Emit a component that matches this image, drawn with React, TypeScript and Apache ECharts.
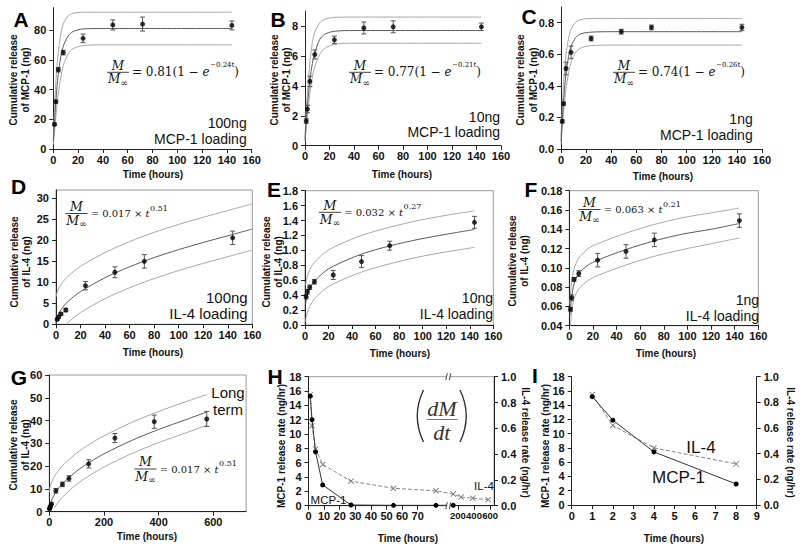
import React, { useEffect, useRef } from 'react';
import * as echarts from 'echarts';

type Pt = [number, number];

// ---------------- data ----------------
const HOURS = [1, 2, 4, 8, 24, 48, 72, 144];
const HOURS_LONG = [1, 2, 4, 8, 24, 48, 72, 144, 240, 384, 576];
const RATE_HOURS_SHORT = [1, 2, 4, 8];

const X_TICKS_160 = [0, 20, 40, 60, 80, 100, 120, 140, 160];
const X_TICKS_LONG = [0, 200, 400, 600];
const X_TICKS_I = [0, 1, 2, 3, 4, 5, 6, 7, 8, 9];
const Y_TICKS_A = [0, 20, 40, 60, 80];
const Y_TICKS_B = [0, 2, 4, 6, 8];
const Y_TICKS_C = [0, 0.2, 0.4, 0.6, 0.8];
const Y_TICKS_D = [0, 5, 10, 15, 20, 25, 30];
const Y_TICKS_E = [0, 0.2, 0.4, 0.6, 0.8, 1.0, 1.2, 1.4, 1.6, 1.8];
const Y_TICKS_F = [0.04, 0.06, 0.08, 0.1, 0.12, 0.14, 0.16, 0.18];
const Y_TICKS_G = [0, 10, 20, 30, 40, 50, 60];
const Y_TICKS_RATE = [0, 2, 4, 6, 8, 10, 12, 14, 16, 18];
const Y_TICKS_RATE_R = [0, 0.2, 0.4, 0.6, 0.8, 1.0];
const H_TICKS_SHORT = [0, 10, 20, 30, 40, 50, 60, 70];
const H_TICKS_LONG = [200, 400, 600];

// A: 100ng MCP-1
const A_VALUES = [16.6, 31.8, 53.3, 64.8, 74.4, 83.4, 84.0, 83.1];
const A_ERRORS = [0.8, 1.0, 1.5, 1.5, 2.9, 3.4, 4.7, 3.0];
const A_FIT: Pt[] = [[0, 5], [1, 18], [2, 31], [3, 42], [4, 50], [6, 62], [8, 69], [12, 76], [16, 79], [24, 80.7], [40, 81], [144, 81]];
const A_UPPER: Pt[] = [[0, 7], [1, 27], [2, 44], [3, 56], [4, 65], [6, 77], [8, 84], [12, 89.5], [16, 91.3], [24, 92], [40, 92], [144, 92]];
const A_LOWER: Pt[] = [[0, 3], [1, 12], [2, 21], [3, 30], [4, 37], [6, 48], [8, 56], [12, 64], [16, 67.5], [24, 69.5], [40, 70], [144, 70]];

// B: 10ng MCP-1
const B_VALUES = [1.65, 2.45, 4.3, 6.1, 7.08, 7.87, 7.95, 7.95];
const B_ERRORS = [0.15, 0.25, 0.35, 0.3, 0.25, 0.4, 0.4, 0.25];
const B_FIT: Pt[] = [[0, 0.4], [1, 1.6], [2, 2.7], [3, 3.6], [4, 4.4], [6, 5.5], [8, 6.2], [12, 7.1], [16, 7.45], [24, 7.65], [40, 7.7], [144, 7.7]];
const B_UPPER: Pt[] = [[0, 0.6], [1, 2.2], [2, 3.6], [3, 4.7], [4, 5.6], [6, 6.9], [8, 7.6], [12, 8.2], [16, 8.45], [24, 8.58], [40, 8.6], [144, 8.6]];
const B_LOWER: Pt[] = [[0, 0.3], [1, 1.1], [2, 2.0], [3, 2.8], [4, 3.5], [6, 4.6], [8, 5.3], [12, 6.1], [16, 6.5], [24, 6.78], [40, 6.85], [144, 6.85]];

// C: 1ng MCP-1
const C_VALUES = [0.175, 0.287, 0.51, 0.612, 0.70, 0.743, 0.77, 0.77];
const C_ERRORS = [0.01, 0.01, 0.04, 0.04, 0.015, 0.015, 0.015, 0.02];
const C_FIT: Pt[] = [[0, 0.05], [1, 0.18], [2, 0.3], [3, 0.4], [4, 0.48], [6, 0.585], [8, 0.65], [12, 0.708], [16, 0.73], [24, 0.74], [40, 0.743], [144, 0.743]];
const C_UPPER: Pt[] = [[0, 0.08], [1, 0.25], [2, 0.4], [3, 0.51], [4, 0.6], [6, 0.7], [8, 0.76], [12, 0.805], [16, 0.82], [24, 0.827], [40, 0.827], [144, 0.827]];
const C_LOWER: Pt[] = [[0, 0.03], [1, 0.13], [2, 0.23], [3, 0.31], [4, 0.38], [6, 0.48], [8, 0.55], [12, 0.615], [16, 0.64], [24, 0.655], [40, 0.658], [144, 0.658]];

// D: 100ng IL-4
const D_VALUES = [1.2, 1.7, 2.45, 3.4, 9.2, 12.4, 15.0, 20.6];
const D_ERRORS = [0.2, 0.3, 0.3, 0.4, 1.0, 1.3, 1.6, 1.6];
const D_FIT: Pt[] = [[0, 0], [0.25, 0.85], [1, 1.7], [4, 3.45], [10, 5.5], [20, 7.8], [40, 11.1], [60, 13.7], [80, 15.9], [100, 17.8], [120, 19.5], [140, 21.1], [160, 22.7]];
const D_UPPER: Pt[] = [[0, 6.5], [1, 7.7], [4, 9.45], [10, 11.5], [20, 13.8], [40, 17.1], [60, 19.7], [80, 21.9], [100, 23.8], [120, 25.5], [140, 27.1], [160, 28.7]];
const D_LOWER: Pt[] = [[8.6, 0], [10, 0.5], [20, 2.8], [40, 6.1], [60, 8.7], [80, 10.9], [100, 12.8], [120, 14.5], [140, 16.1], [160, 17.7]];

// E: 10ng IL-4
const E_VALUES = [0.38, 0.447, 0.505, 0.58, 0.67, 0.85, 1.063, 1.376];
const E_ERRORS = [0.03, 0.03, 0.03, 0.03, 0.06, 0.08, 0.06, 0.08];
const E_FIT: Pt[] = [[0.5, 0.28], [1, 0.334], [2, 0.40], [4, 0.486], [8, 0.585], [16, 0.706], [24, 0.788], [48, 0.95], [72, 1.06], [96, 1.146], [120, 1.216], [144, 1.28]];
const E_UPPER: Pt[] = [[0.5, 0.53], [1, 0.58], [2, 0.65], [4, 0.74], [8, 0.84], [16, 0.96], [24, 1.04], [48, 1.2], [72, 1.31], [96, 1.40], [120, 1.47], [144, 1.53]];
const E_LOWER: Pt[] = [[0.5, 0.04], [1, 0.1], [2, 0.16], [4, 0.25], [8, 0.35], [16, 0.47], [24, 0.55], [48, 0.71], [72, 0.82], [96, 0.91], [120, 0.98], [144, 1.04]];

// F: 1ng IL-4
const F_VALUES = [0.057, 0.069, 0.088, 0.094, 0.108, 0.117, 0.129, 0.149];
const F_ERRORS = [0.002, 0.003, 0.002, 0.003, 0.007, 0.007, 0.007, 0.007];
const F_FIT: Pt[] = [[0.5, 0.05], [1, 0.058], [2, 0.07], [4, 0.083], [8, 0.094], [16, 0.103], [24, 0.108], [48, 0.119], [72, 0.128], [96, 0.135], [120, 0.140], [144, 0.146]];
const F_UPPER: Pt[] = [[0.5, 0.062], [1, 0.072], [2, 0.085], [4, 0.099], [8, 0.110], [16, 0.120], [24, 0.125], [48, 0.136], [72, 0.145], [96, 0.152], [120, 0.157], [144, 0.162]];
const F_LOWER: Pt[] = [[1, 0.04], [2, 0.055], [4, 0.068], [8, 0.078], [16, 0.087], [24, 0.092], [48, 0.103], [72, 0.112], [96, 0.119], [120, 0.125], [144, 0.131]];

// G: long term IL-4
const G_VALUES = [1.2, 1.7, 2.45, 3.4, 9.2, 12.0, 14.6, 21.0, 32.3, 39.5, 40.7];
const G_ERRORS = [0.2, 0.3, 0.3, 0.4, 1.0, 1.0, 1.2, 1.8, 2.0, 2.9, 3.3];
const G_FIT: Pt[] = [[0, 0], [1, 1.7], [4, 3.45], [10, 5.5], [25, 8.8], [50, 12.5], [100, 17.8], [150, 21.9], [200, 25.4], [300, 31.2], [400, 36.1], [500, 40.4], [576, 43.8]];
const G_UPPER: Pt[] = [[0, 8.5], [4, 11.3], [10, 13.4], [25, 16.7], [50, 20.4], [100, 25.7], [150, 29.8], [200, 33.3], [300, 39.1], [400, 44.0], [500, 48.3], [576, 51.4]];
const G_LOWER: Pt[] = [[18, 1.5], [25, 2.9], [50, 6.6], [100, 12.0], [150, 16.1], [200, 19.6], [300, 25.4], [400, 30.3], [500, 34.6], [576, 37.9]];

// H: release rates
const H_MCP1_RATE = [15.3, 12.0, 7.5, 2.9, 0.1, 0.05, 0.05, 0.05];
const H_IL4_RATE = [0.86, 0.62, 0.44, 0.32, 0.19, 0.135, 0.115, 0.09, 0.067, 0.058, 0.047];

// I: early release rates
const I_MCP1_RATE = [15.2, 11.9, 7.45, 2.95];
const I_IL4_RATE = [0.86, 0.62, 0.445, 0.32];

// ---------------- layout / style ----------------
const SANS = "'Liberation Sans', Arial, sans-serif";
const SERIF = "'DejaVu Serif', serif";
const AXIS_COLOR = '#222';

// H broken axis: pixel-unit axis; first segment linear in hours, second segment compressed
const H_U_PER_HOUR = 1.77;
const H_SEG2_START = 133.1;
const H_SEG2_PER_HOUR = 0.081;
const H_BREAK_U = 139.8;
const H_LABEL_STEP_PER_HOUR = 1.56;
const hU = (t: number) => (t <= 80 ? t * H_U_PER_HOUR : H_SEG2_START + t * H_SEG2_PER_HOUR);
const H_SHORT_U = H_TICKS_SHORT.map((t) => t * H_LABEL_STEP_PER_HOUR);
const H_LONG_U = H_TICKS_LONG.map(hU);
const H_TICK_U = [...H_SHORT_U, ...H_LONG_U];

interface Panel {
  box: [number, number, number, number];
  xMax: number;
  xTicks: number[];
  yMin: number;
  yMax: number;
  yTicks: number[];
  yDec: number;
  frame: boolean;
  times: number[];
  values: number[];
  errors: number[];
  fit: Pt[];
  upper: Pt[];
  lower: Pt[];
}

const PANELS: Panel[] = [
  { box: [53.3, 7.7, 251.7, 149], xMax: 160, xTicks: X_TICKS_160, yMin: 0, yMax: 95, yTicks: Y_TICKS_A, yDec: 0, frame: false, times: HOURS, values: A_VALUES, errors: A_ERRORS, fit: A_FIT, upper: A_UPPER, lower: A_LOWER },
  { box: [305, 11.1, 501, 145.7], xMax: 160, xTicks: X_TICKS_160, yMin: 0, yMax: 9, yTicks: Y_TICKS_B, yDec: 0, frame: false, times: HOURS, values: B_VALUES, errors: B_ERRORS, fit: B_FIT, upper: B_UPPER, lower: B_LOWER },
  { box: [561, 6.9, 762, 149], xMax: 160, xTicks: X_TICKS_160, yMin: 0, yMax: 0.9, yTicks: Y_TICKS_C, yDec: 1, frame: false, times: HOURS, values: C_VALUES, errors: C_ERRORS, fit: C_FIT, upper: C_UPPER, lower: C_LOWER },
  { box: [56, 190, 252.3, 324.3], xMax: 160, xTicks: X_TICKS_160, yMin: 0, yMax: 32, yTicks: Y_TICKS_D, yDec: 0, frame: true, times: HOURS, values: D_VALUES, errors: D_ERRORS, fit: D_FIT, upper: D_UPPER, lower: D_LOWER },
  { box: [305, 190.7, 493.3, 325], xMax: 160, xTicks: X_TICKS_160, yMin: 0, yMax: 1.8, yTicks: Y_TICKS_E, yDec: 1, frame: true, times: HOURS, values: E_VALUES, errors: E_ERRORS, fit: E_FIT, upper: E_UPPER, lower: E_LOWER },
  { box: [569.3, 190.7, 758.3, 325.7], xMax: 160, xTicks: X_TICKS_160, yMin: 0.04, yMax: 0.18, yTicks: Y_TICKS_F, yDec: 2, frame: true, times: HOURS, values: F_VALUES, errors: F_ERRORS, fit: F_FIT, upper: F_UPPER, lower: F_LOWER },
  { box: [49.3, 375, 246.1, 511.7], xMax: 720, xTicks: X_TICKS_LONG, yMin: 0, yMax: 60, yTicks: Y_TICKS_G, yDec: 0, frame: true, times: HOURS_LONG, values: G_VALUES, errors: G_ERRORS, fit: G_FIT, upper: G_UPPER, lower: G_LOWER },
];
const H_BOX: [number, number, number, number] = [308.5, 376.7, 494, 505.7];
const I_BOX: [number, number, number, number] = [571.7, 376.7, 756.7, 505];

const tickLabel = { color: '#111', fontFamily: SANS, fontWeight: 'bold' as const, fontSize: 11, hideOverlap: false };
const fixed = (d: number) => (v: number) => v.toFixed(d);

function gridOf(b: [number, number, number, number], frame: boolean) {
  return {
    left: b[0], top: b[1], width: b[2] - b[0], height: b[3] - b[1],
    show: frame, borderColor: '#9a9a9a', borderWidth: 1, backgroundColor: 'transparent',
    containLabel: false, outerBoundsMode: 'none',
  };
}

function valueAxis(grid: number, min: number, max: number, ticks: number[], fmt: (v: number) => string, extra: any = {}) {
  return {
    type: 'value', gridIndex: grid, min, max,
    axisLine: { show: true, onZero: false, lineStyle: { color: AXIS_COLOR, width: 1 } },
    axisTick: { show: true, customValues: ticks, length: 4, lineStyle: { color: AXIS_COLOR, width: 1 } },
    axisLabel: { show: true, customValues: ticks, formatter: fmt, ...tickLabel, ...(extra.label || {}) },
    splitLine: { show: false },
    ...(extra.axis || {}),
  };
}

const errorBarRender = (params: any, api: any) => {
  const x = api.value(0);
  const p1 = api.coord([x, api.value(1)]);
  const p2 = api.coord([x, api.value(2)]);
  const w = 2.5;
  const st = { stroke: '#555', lineWidth: 1 };
  return {
    type: 'group',
    children: [
      { type: 'line', shape: { x1: p1[0], y1: p1[1], x2: p2[0], y2: p2[1] }, style: st },
      { type: 'line', shape: { x1: p1[0] - w, y1: p1[1], x2: p1[0] + w, y2: p1[1] }, style: st },
      { type: 'line', shape: { x1: p2[0] - w, y1: p2[1], x2: p2[0] + w, y2: p2[1] }, style: st },
    ],
  };
};

const X_SYMBOL = 'path://M0,1L1,0L5,4L9,0L10,1L6,5L10,9L9,10L5,6L1,10L0,9L4,5Z';

function buildOption() {
  const grid: any[] = [];
  const xAxis: any[] = [];
  const yAxis: any[] = [];
  const series: any[] = [];

  PANELS.forEach((p, i) => {
    grid.push(gridOf(p.box, p.frame));
    xAxis.push(valueAxis(i, 0, p.xMax, p.xTicks, fixed(0), { label: { margin: 5 } }));
    yAxis.push(valueAxis(i, p.yMin, p.yMax, p.yTicks, fixed(p.yDec), { label: { margin: 7 } }));
    const band = (data: Pt[], color: string) => ({
      type: 'line', xAxisIndex: i, yAxisIndex: i, data, symbol: 'none', showSymbol: false,
      smooth: 0.3, clip: true, silent: true, z: 2, lineStyle: { color, width: 1 },
    });
    series.push(band(p.upper, '#a8a8a8'));
    series.push(band(p.lower, '#a8a8a8'));
    series.push(band(p.fit, '#5a5a5a'));
    series.push({
      type: 'custom', xAxisIndex: i, yAxisIndex: i, z: 3, silent: true, clip: false,
      renderItem: errorBarRender, encode: { x: 0, y: [1, 2] },
      data: p.times.map((t, k) => [t, p.values[k] - p.errors[k], p.values[k] + p.errors[k]]),
    });
    series.push({
      type: 'scatter', xAxisIndex: i, yAxisIndex: i, z: 4, silent: true,
      symbol: 'circle', symbolSize: 5, itemStyle: { color: '#000' },
      data: p.times.map((t, k) => [t, p.values[k]]),
    });
  });

  // H (grid 7): broken time axis
  grid.push(gridOf(H_BOX, true));
  xAxis.push(valueAxis(7, 0, H_BOX[2] - H_BOX[0], H_TICK_U, (v: number) => {
    let best = 0;
    H_TICK_U.forEach((u, k) => { if (Math.abs(u - v) < Math.abs(H_TICK_U[best] - v)) best = k; });
    const txt = String([...H_TICKS_SHORT, ...H_TICKS_LONG][best]);
    return best >= H_TICKS_SHORT.length ? `{s|${txt}}` : txt;
  }, { label: { margin: 5, rich: { s: { fontSize: 9.5, fontWeight: 'bold', fontFamily: SANS, color: '#111' } } } }));
  yAxis.push(valueAxis(7, 0, 18, Y_TICKS_RATE, fixed(0), { label: { margin: 7 } }));
  // I (grid 8)
  grid.push(gridOf(I_BOX, false));
  xAxis.push(valueAxis(8, 0, 9, X_TICKS_I, fixed(0), { label: { margin: 5 } }));
  yAxis.push(valueAxis(8, 0, 18, Y_TICKS_RATE, fixed(0), { label: { margin: 7 } }));
  // right axes (index 9: H, 10: I)
  yAxis.push(valueAxis(7, 0, 1, Y_TICKS_RATE_R, fixed(1), { axis: { position: 'right' }, label: { margin: 7 } }));
  yAxis.push(valueAxis(8, 0, 1, Y_TICKS_RATE_R, fixed(1), { axis: { position: 'right' }, label: { margin: 7 } }));

  const mcpLine = (xi: number, yi: number, data: Pt[]) => ({
    type: 'line', xAxisIndex: xi, yAxisIndex: yi, data, z: 4, silent: true,
    symbol: 'circle', symbolSize: 5, itemStyle: { color: '#000' },
    lineStyle: { color: '#333', width: 1 },
  });
  const ilLine = (xi: number, yi: number, data: Pt[]) => ({
    type: 'line', xAxisIndex: xi, yAxisIndex: yi, data, z: 3, silent: true,
    symbol: X_SYMBOL, symbolSize: 6, itemStyle: { color: '#777' },
    lineStyle: { color: '#888', width: 1, type: [4, 2] },
  });
  series.push(ilLine(7, 9, HOURS_LONG.map((t, k) => [hU(t), H_IL4_RATE[k]] as Pt)));
  series.push(mcpLine(7, 7, HOURS.map((t, k) => [hU(t), H_MCP1_RATE[k]] as Pt)));
  series.push(ilLine(8, 10, RATE_HOURS_SHORT.map((t, k) => [t, I_IL4_RATE[k]] as Pt)));
  series.push(mcpLine(8, 8, RATE_HOURS_SHORT.map((t, k) => [t, I_MCP1_RATE[k]] as Pt)));

  return {
    animation: false,
    backgroundColor: '#fff',
    textStyle: { fontFamily: SANS },
    grid, xAxis, yAxis, series,
  };
}

// ---------------- graphics ----------------
let measureCtx: CanvasRenderingContext2D | null = null;
function textWidth(s: string, font: string) {
  if (!measureCtx) measureCtx = document.createElement('canvas').getContext('2d');
  measureCtx!.font = font;
  return measureCtx!.measureText(s).width;
}

function txt(text: string, x: number, y: number, font: string, align = 'left', valign = 'middle', extra: any = {}) {
  const { style: st, ...rest } = extra;
  return {
    type: 'text', x, y, silent: true, z: 100, ...rest,
    style: { text, font, fill: '#111', align, verticalAlign: valign, textAlign: align, textVerticalAlign: valign, ...(st || {}) },
  };
}

type Piece = { t: string; k: 'n' | 'i' | 'sup' };
function formula(cx: number, ly: number, fracSize: number, size: number, supSize: number, supRaise: number, pieces: Piece[]) {
  const mFont = `italic ${fracSize}px ${SERIF}`;
  const infSize = Math.round(fracSize * 0.72);
  const infFont = `${infSize}px ${SERIF}`;
  const wM = textWidth('M', mFont);
  const wInf = textWidth('∞', infFont);
  const W = wM + wInf;
  const els: any[] = [];
  els.push(txt('M', cx, ly - 0.6, mFont, 'center', 'bottom'));
  els.push({ type: 'line', silent: true, z: 100, shape: { x1: cx - W / 2 - 1, y1: ly, x2: cx + W / 2 + 1, y2: ly }, style: { stroke: '#111', lineWidth: 0.8 } });
  els.push(txt('M', cx - W / 2, ly + 0.6, mFont, 'left', 'top'));
  els.push(txt('∞', cx - W / 2 + wM, ly + fracSize * 0.5, infFont, 'left', 'top'));
  let x = cx + W / 2 + 4;
  for (const p of pieces) {
    const font = p.k === 'sup' ? `${supSize}px ${SERIF}` : p.k === 'i' ? `italic ${size}px ${SERIF}` : `${size}px ${SERIF}`;
    const y = p.k === 'sup' ? ly - supRaise : ly;
    els.push(txt(p.t, x, y, font, 'left', 'middle'));
    x += textWidth(p.t, font) + (p.k === 'i' ? 0.5 : 0);
  }
  return els;
}

function expFormula(cx: number, ly: number, coef: string, rate: string) {
  return formula(cx, ly, 12, 12, 7, 7.5, [
    { t: `= ${coef}(1 − `, k: 'n' }, { t: 'e', k: 'i' }, { t: `−${rate}t`, k: 'sup' }, { t: ')', k: 'n' },
  ]);
}
function powFormula(cx: number, ly: number, coef: string, expo: string) {
  return formula(cx, ly, 12.5, 10, 8, 5.5, [
    { t: `= ${coef} × `, k: 'n' }, { t: 't', k: 'i' }, { t: expo, k: 'sup' },
  ]);
}

function buildGraphics(chart: any) {
  const els: any[] = [];
  const LETTER = `bold 21px ${SANS}`;
  const letters: [string, number, number][] = [
    ['A', 21, 19], ['B', 278, 19], ['C', 529, 16], ['D', 18.5, 186.5], ['E', 274, 189],
    ['F', 531, 189], ['G', 19, 377.5], ['H', 275, 376.5], ['I', 535, 375],
  ];
  letters.forEach(([l, x, y]) => els.push(txt(l, x, y, LETTER, 'center', 'middle', { style: { fill: '#000' } })));

  // loading notes
  const note = (lines: string[], right: number, y1: number, y2: number, size: number) => {
    els.push(txt(lines[0], right, y1, `${size}px ${SANS}`, 'right', 'middle'));
    els.push(txt(lines[1], right, y2, `${size}px ${SANS}`, 'right', 'middle'));
  };
  note(['100ng', 'MCP-1 loading'], 246.7, 123, 138.5, 14);
  note(['10ng', 'MCP-1 loading'], 500, 116.5, 132, 14);
  note(['1ng', 'MCP-1 loading'], 752.7, 118.5, 134.5, 14);
  note(['100ng', 'IL-4 loading'], 247.7, 297, 313.5, 15);
  note(['10ng', 'IL-4 loading'], 493, 297.5, 313.5, 14);
  note(['1ng', 'IL-4 loading'], 759, 299.5, 315.5, 14);

  // axis titles
  const TITLE = `bold 10px ${SANS}`;
  const xTitles: [number, number][] = [[153, 174], [402, 174], [663, 176], [153, 352.7], [400, 353.3], [666, 353.3], [147, 536.7], [408, 538.3], [674, 538.3]];
  xTitles.forEach(([x, y]) => els.push(txt('Time (hours)', x, y, TITLE, 'center', 'middle')));
  const yTitle = (text: string, x: number, y: number, rot: number) =>
    els.push(txt(text, x, y, TITLE, 'center', 'middle', { rotation: rot, style: { lineHeight: 12.4 } }));
  yTitle('Cumulative release\nof MCP-1 (ng)', 19.5, 80, Math.PI / 2);
  yTitle('Cumulative release\nof MCP-1 (ng)', 280.5, 80, Math.PI / 2);
  yTitle('Cumulative release\nof MCP-1 (ng)', 527, 80, Math.PI / 2);
  yTitle('Cumulative release\nof IL-4 (ng)', 20.5, 262, Math.PI / 2);
  yTitle('Cumulative release\nof IL-4 (ng)', 272.2, 262, Math.PI / 2);
  yTitle('Cumulative release\nof IL-4 (ng)', 518.8, 261, Math.PI / 2);
  yTitle('Cumulative release\nof IL-4 (ng)', 19.5, 445, Math.PI / 2);
  yTitle('MCP-1 release rate (ng/hr)', 281.7, 446, Math.PI / 2);
  yTitle('IL-4 release rate (ng/hr)', 525, 442.5, -Math.PI / 2);
  yTitle('MCP-1 release rate (ng/hr)', 545.7, 446, Math.PI / 2);
  yTitle('IL-4 release rate (ng/hr)', 790, 442.5, -Math.PI / 2);

  // formulas
  els.push(...expFormula(118, 72.3, '0.81', '0.24'));
  els.push(...expFormula(360, 72.3, '0.77', '0.21'));
  els.push(...expFormula(624, 72.3, '0.74', '0.26'));
  els.push(...powFormula(76.5, 213.5, '0.017', '0.51'));
  els.push(...powFormula(330, 212.3, '0.032', '0.27'));
  els.push(...powFormula(589.5, 209.5, '0.063', '0.21'));
  els.push(...powFormula(145.5, 469, '0.017', '0.51'));

  // G note
  els.push(txt('Long', 228, 392.5, `15px ${SANS}`, 'center', 'middle'));
  els.push(txt('term', 228, 409, `15px ${SANS}`, 'center', 'middle'));

  // H/I series labels
  els.push(txt('MCP-1', 328.5, 499.5, `11.5px ${SANS}`, 'center', 'middle'));
  els.push(txt('IL-4', 484, 486, `11.5px ${SANS}`, 'center', 'middle'));
  els.push(txt('IL-4', 701, 447.5, `17px ${SANS}`, 'center', 'middle'));
  els.push(txt('MCP-1', 678.5, 477.5, `17px ${SANS}`, 'center', 'middle'));

  // (dM/dt)
  const dFont = `italic 22px 'Liberation Serif', serif`;
  els.push(txt('dM', 441.8, 408.5, dFont, 'center', 'middle', { style: { fill: '#333' } }));
  els.push(txt('dt', 441.8, 432, dFont, 'center', 'middle', { style: { fill: '#333' } }));
  els.push({ type: 'line', silent: true, z: 100, shape: { x1: 426.5, y1: 419.5, x2: 457.5, y2: 419.5 }, style: { stroke: '#555', lineWidth: 0.8 } });
  els.push({ type: 'bezierCurve', silent: true, z: 100, shape: { x1: 423.5, y1: 390, cpx1: 411, cpy1: 416, x2: 423.5, y2: 442 }, style: { stroke: '#333', lineWidth: 1.4, fill: 'none' } });
  els.push({ type: 'bezierCurve', silent: true, z: 100, shape: { x1: 460, y1: 390, cpx1: 472.5, cpy1: 416, x2: 460, y2: 442 }, style: { stroke: '#333', lineWidth: 1.4, fill: 'none' } });

  // axis break marks for H
  const bottom = chart.convertToPixel({ gridIndex: 7 }, [H_BREAK_U, 0]);
  const top = chart.convertToPixel({ gridIndex: 7 }, [H_BREAK_U, 18]);
  [bottom, top].forEach((p: number[]) => {
    const bx = p[0], by = p[1];
    els.push({ type: 'rect', silent: true, z: 100, shape: { x: bx - 1.5, y: by - 3, width: 3, height: 6 }, style: { fill: '#fff' } });
    els.push({ type: 'line', silent: true, z: 101, shape: { x1: bx - 2.5, y1: by + 3.5, x2: bx - 1, y2: by - 3.5 }, style: { stroke: '#444', lineWidth: 1 } });
    els.push({ type: 'line', silent: true, z: 101, shape: { x1: bx + 1, y1: by + 3.5, x2: bx + 2.5, y2: by - 3.5 }, style: { stroke: '#444', lineWidth: 1 } });
  });

  return els;
}

export default function App() {
  const ref = useRef<HTMLDivElement>(null);
  useEffect(() => {
    const el = ref.current;
    if (!el) return;
    const chart = echarts.init(el, undefined, { renderer: 'svg', width: 800, height: 552 });
    chart.setOption(buildOption() as any);
    chart.setOption({ graphic: buildGraphics(chart) } as any);
    return () => chart.dispose();
  }, []);
  return (
    <div
      ref={ref}
      style={{ position: 'absolute', left: 0, top: 0, width: 800, height: 552, background: '#fff' }}
    />
  );
}
